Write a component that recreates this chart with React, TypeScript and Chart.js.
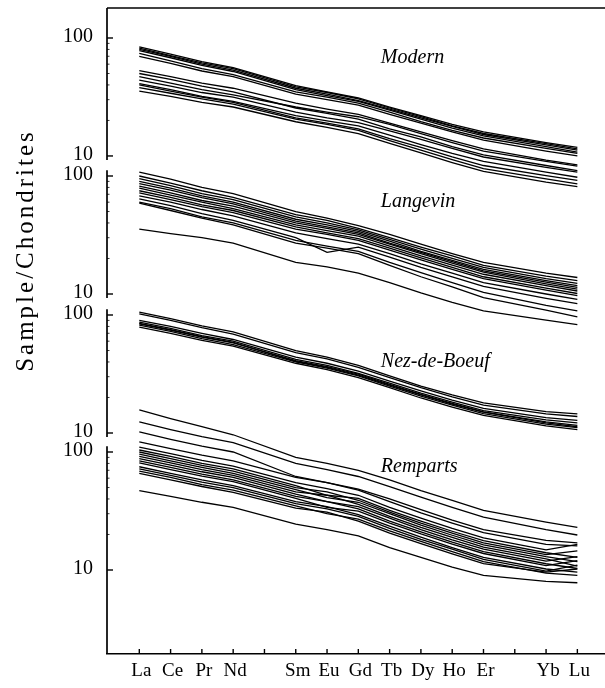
import React, { useEffect, useRef } from 'react';
import { Chart, registerables } from 'chart.js';

Chart.register(...registerables);

// ---------------- data ----------------
const elements = ['La', 'Ce', 'Pr', 'Nd', 'Pm', 'Sm', 'Eu', 'Gd', 'Tb', 'Dy', 'Ho', 'Er', 'Tm', 'Yb', 'Lu'];
const xTickLabels = ['La', 'Ce', 'Pr', 'Nd', '', 'Sm', 'Eu', 'Gd', 'Tb', 'Dy', 'Ho', 'Er', '', 'Yb', 'Lu'];
const analysed = ['La', 'Ce', 'Pr', 'Nd', 'Sm', 'Eu', 'Gd', 'Tb', 'Dy', 'Ho', 'Er', 'Yb', 'Lu'];
const yTickValues = [10, 100];
const yTickLabels = ['10', '100'];
const yMinorValues = [20, 30, 40, 50, 60, 70, 80, 90];
const panelNames = ['Modern', 'Langevin', 'Nez-de-Boeuf', 'Remparts'];

// chondrite-normalised values, order = analysed
const modern = [
  [84, 73, 63, 56, 39.5, 35, 31, 26, 22, 18.5, 16, 13, 11.8],
  [82, 71, 61.5, 55, 38.5, 34.5, 30.5, 25.5, 21.5, 18, 15.5, 12.7, 11.5],
  [80, 70, 60, 53.5, 37.5, 33.5, 29.5, 25, 21, 17.8, 15.2, 12.4, 11.2],
  [78, 68, 58.5, 52, 36.5, 32.5, 29, 24.5, 20.5, 17.2, 14.8, 12, 10.8],
  [74, 64, 55, 49, 35, 31.5, 28, 23.5, 19.5, 16.5, 14.2, 11.6, 10.5],
  [70, 61, 52.5, 47, 33.5, 30, 27, 22.5, 19, 16, 13.6, 11, 10],
  [53, 47, 41.5, 37.5, 28, 25, 22.5, 19, 16, 13.5, 11.5, 9.2, 8.4],
  [50, 44.5, 39, 35, 25.5, 23, 20.5, 17, 14.5, 12, 10.2, 8.3, 7.5],
  [47, 41.5, 36.5, 33, 26, 23.5, 21.5, 18.5, 15.5, 13, 11, 9, 8.2],
  [44, 39, 34.5, 31.5, 23.5, 21, 19.2, 16.3, 13.8, 11.6, 9.8, 8, 7.3],
  [41, 36.5, 32, 29, 22, 19.8, 18, 15, 12.5, 10.5, 9, 7.3, 6.6],
  [40, 35.5, 31.5, 28.5, 21, 19, 17, 14, 11.8, 9.8, 8.3, 6.8, 6.2],
  [38, 34, 30.5, 27.5, 20.5, 18.5, 16.5, 13.5, 11.2, 9.3, 7.8, 6.4, 5.8],
  [35.5, 32, 28.5, 26, 19.5, 17.5, 15.5, 12.8, 10.6, 8.8, 7.4, 6, 5.5],
];

const langevin = [
  [108, 94, 80, 71, 50, 44, 38, 32, 26.5, 22, 18.5, 15, 13.8],
  [100, 87, 75, 66, 47, 42, 36, 30, 25, 21, 17.5, 14.2, 13],
  [95, 83, 71, 63, 45, 40, 35, 29, 24, 20, 16.8, 13.5, 12.3],
  [90, 79, 68, 60, 43, 38.5, 34, 28, 23, 19.3, 16.2, 13, 11.8],
  [86, 76, 65.5, 58, 41.5, 37, 33, 27, 22.5, 18.8, 15.7, 12.6, 11.4],
  [82, 72, 62, 55.5, 40, 36, 32, 26.5, 22, 18.3, 15.3, 12.2, 11],
  [79, 69, 60, 53, 38.5, 34.5, 31, 25.5, 21, 17.6, 14.7, 11.8, 10.6],
  [75, 66, 57, 51, 37, 33, 29.5, 24.5, 20.2, 16.8, 14, 11.2, 10.1],
  [72, 63, 55, 49, 35.5, 32, 28.5, 23.5, 19.5, 16.2, 13.5, 10.8, 9.7],
  [68, 60, 52, 46, 33, 29.5, 26.5, 22, 18, 15, 12.5, 10, 9],
  [64, 56, 48, 42, 30, 22.5, 25, 20.5, 16.8, 14, 11.6, 9.2, 8.3],
  [60, 53, 45, 40, 28.5, 25.5, 23, 18.5, 15.2, 12.5, 10.3, 8, 7.2],
  [59, 51, 44, 38.5, 27, 24.5, 22, 17.5, 14, 11.5, 9.3, 7.3, 6.4],
  [35.5, 32.5, 30, 27, 18.5, 17, 15, 12.5, 10.2, 8.5, 7.2, 6, 5.5],
];

const nezDeBoeuf = [
  [106, 93, 81, 72, 50, 44, 37.5, 30.5, 25, 21, 18, 15.2, 14.5],
  [102, 90, 78, 69, 48, 42.5, 36, 29.5, 24.2, 20.2, 17.2, 14.5, 13.8],
  [90, 80, 70, 62, 44, 39, 33.5, 27.5, 22.7, 19, 16.2, 13.5, 12.8],
  [87, 77, 67, 60, 42, 37.5, 32, 26.5, 21.8, 18.3, 15.5, 12.9, 12.2],
  [85, 75, 65.5, 58.5, 40.5, 36, 31, 25.5, 21, 17.6, 15, 12.2, 11.3],
  [84, 74.5, 65, 58, 41, 36.5, 31.5, 25.8, 21.2, 17.8, 15.1, 12.4, 11.6],
  [82, 72.5, 63, 56, 40, 35.5, 30.5, 25, 20.5, 17.2, 14.6, 11.9, 11.1],
  [79, 70, 61, 54.5, 39, 34.5, 29.5, 24.2, 19.8, 16.6, 14.1, 11.5, 10.7],
];

const remparts = [
  [227, 192, 164, 140, 90, 80, 70, 58, 47, 39, 32, 25.5, 23],
  [180, 155, 135, 120, 80, 71, 62, 51, 41.5, 34, 28, 22, 19.8],
  [148, 128, 112, 100, 62, 55, 48.5, 40, 32.5, 26.5, 22, 17.8, 17],
  [122, 107, 94, 84, 61, 55, 47.5, 38, 30.5, 25, 20.7, 16.5, 16],
  [110, 97, 85, 76, 55, 49, 43, 34, 27.5, 22.5, 18.7, 14.8, 16.5],
  [104, 92, 80, 72, 52, 43, 40.5, 32, 26, 21.3, 17.7, 14, 12.8],
  [100, 88, 77, 69, 50, 46, 39, 31, 25, 20.5, 17, 13.5, 14.5],
  [96, 84, 74, 66, 48, 41, 37.5, 30, 24, 19.7, 16.3, 13, 11.8],
  [92, 81, 71, 63.5, 46, 43, 36, 28.5, 23, 18.9, 15.6, 12.4, 10.8],
  [88, 77.5, 68, 61, 44, 38, 34.5, 27.5, 22, 18, 15, 11.9, 13],
  [84, 74, 65, 58, 42, 38, 33, 26, 21, 17.2, 14.3, 11.3, 10.3],
  [81, 71, 62.5, 56, 40.5, 34, 31.5, 25, 20.2, 16.6, 13.8, 10.9, 12],
  [75, 66, 58, 52, 38, 34.5, 29.5, 23.5, 19, 15.5, 12.8, 10.2, 9.6],
  [72, 63.5, 55.5, 50, 36.5, 33, 28.5, 22.5, 18.2, 15, 12.3, 9.8, 11],
  [69, 61, 53, 47.5, 35, 30, 27, 21.5, 17.5, 14.3, 11.8, 9.4, 9],
  [66, 58, 51, 45.5, 33.5, 31, 26, 20.5, 16.7, 13.7, 11.3, 9.6, 10.2],
  [47, 42, 37.5, 34, 24.5, 22, 19.5, 15.5, 12.8, 10.6, 9, 8, 7.8],
];

const panelSeries = [modern, langevin, nezDeBoeuf, remparts];

// ---------------- layout (pixels, not data) ----------------
const W = 605;
const H = 688;
const AREA_LEFT = 107;
const AREA_TOP = 8;
const AREA_BOTTOM = 654;
const DECADE_PX = 118;
const PANEL_100_PX = [38, 176, 315, 452];
const X_FIRST_PX = 139.3;
const X_STEP_PX = 31.29;
const LABEL_X_INDEX = 7.72;
const LABEL_Y_VALUE = [67.7, 60, 40, 74.6];
const SEG_TOP_VALUE = 112;
const SEG_BOTTOM_VALUE = 9.25;
const SERIF = "'Liberation Serif', 'Times New Roman', Times, serif";

const xMin = -(X_FIRST_PX - AREA_LEFT) / X_STEP_PX;
const xMax = (W - X_FIRST_PX) / X_STEP_PX;

function panelRange(k: number) {
  const p = PANEL_100_PX[k];
  return {
    min: 100 * Math.pow(10, -(AREA_BOTTOM - p) / DECADE_PX),
    max: 100 * Math.pow(10, (p - AREA_TOP) / DECADE_PX),
  };
}

const decorPlugin = {
  id: 'panelDecor',
  afterDraw(chart: any) {
    const { ctx, chartArea, scales } = chart;
    const xs = scales.x;
    ctx.save();
    ctx.strokeStyle = '#000';
    ctx.fillStyle = '#000';
    ctx.lineCap = 'butt';

    // top frame line
    ctx.lineWidth = 1.6;
    ctx.beginPath();
    ctx.moveTo(chartArea.left, chartArea.top);
    ctx.lineTo(chartArea.right, chartArea.top);
    ctx.stroke();

    // x ticks (inward)
    ctx.lineWidth = 1.4;
    elements.forEach((_, i) => {
      const px = xs.getPixelForValue(i);
      ctx.beginPath();
      ctx.moveTo(px, chartArea.bottom);
      ctx.lineTo(px, chartArea.bottom - 5);
      ctx.stroke();
    });

    panelNames.forEach((name, k) => {
      const s = scales['y' + k];
      const x0 = chartArea.left;
      const yTop = k === 0 ? chartArea.top : s.getPixelForValue(SEG_TOP_VALUE);
      const yBot = k === panelNames.length - 1 ? chartArea.bottom : s.getPixelForValue(SEG_BOTTOM_VALUE);
      ctx.lineWidth = 1.7;
      ctx.beginPath();
      ctx.moveTo(x0, yTop);
      ctx.lineTo(x0, yBot);
      ctx.stroke();

      ctx.lineWidth = 1.4;
      yTickValues.forEach((v) => {
        const py = s.getPixelForValue(v);
        ctx.beginPath();
        ctx.moveTo(x0, py);
        ctx.lineTo(x0 + 6, py);
        ctx.stroke();
      });
      ctx.lineWidth = 0.8;
      yMinorValues.forEach((v) => {
        const py = s.getPixelForValue(v);
        ctx.beginPath();
        ctx.moveTo(x0, py);
        ctx.lineTo(x0 + 2.5, py);
        ctx.stroke();
      });

      ctx.font = `20px ${SERIF}`;
      ctx.textAlign = 'right';
      ctx.textBaseline = 'middle';
      yTickValues.forEach((v, i) => {
        ctx.fillText(yTickLabels[i], x0 - 14, s.getPixelForValue(v) - 1);
      });

      ctx.font = `italic 20px ${SERIF}`;
      ctx.textAlign = 'left';
      ctx.textBaseline = 'middle';
      ctx.fillText(name, xs.getPixelForValue(LABEL_X_INDEX), s.getPixelForValue(LABEL_Y_VALUE[k]));
    });

    // y-axis title
    ctx.save();
    ctx.translate(33, 252);
    ctx.rotate(-Math.PI / 2);
    ctx.font = `25px ${SERIF}`;
    (ctx as any).letterSpacing = '3px';
    ctx.textAlign = 'center';
    ctx.textBaseline = 'alphabetic';
    ctx.fillText('Sample/Chondrites', 1.5, 0);
    ctx.restore();

    ctx.restore();
  },
};

export default function App() {
  const ref = useRef<HTMLCanvasElement | null>(null);

  useEffect(() => {
    if (!ref.current) return;
    const datasets = panelSeries.flatMap((series, k) =>
      series.map((vals, j) => ({
        label: `${panelNames[k]} ${j + 1}`,
        data: analysed.map((el, i) => ({ x: elements.indexOf(el), y: vals[i] })),
        yAxisID: 'y' + k,
        borderColor: '#000',
        backgroundColor: '#000',
        borderWidth: 1.3,
        pointRadius: 0,
        fill: false,
        tension: 0,
      }))
    );

    const yScales: any = {};
    panelNames.forEach((_, k) => {
      const r = panelRange(k);
      yScales['y' + k] = { type: 'logarithmic', display: false, min: r.min, max: r.max };
    });

    const chart = new Chart(ref.current, {
      type: 'line',
      data: { datasets },
      options: {
        animation: false,
        responsive: false,
        devicePixelRatio: 1,
        events: [],
        layout: { padding: { left: AREA_LEFT, top: AREA_TOP, right: 0, bottom: 0 } },
        plugins: { legend: { display: false }, tooltip: { enabled: false }, title: { display: false } },
        scales: {
          x: {
            type: 'linear',
            min: xMin,
            max: xMax,
            afterBuildTicks: (s: any) => {
              s.ticks = elements.map((_, i) => ({ value: i }));
            },
            afterFit: (s: any) => {
              s.height = H - AREA_BOTTOM;
            },
            grid: { display: false, drawTicks: false },
            border: { display: true, color: '#000', width: 1.6 },
            ticks: {
              autoSkip: false,
              maxRotation: 0,
              minRotation: 0,
              padding: 6,
              labelOffset: 2,
              color: '#000',
              font: { family: SERIF, size: 19 },
              callback: (v: any) => xTickLabels[Math.round(Number(v))] ?? '',
            },
          },
          ...yScales,
        },
      } as any,
      plugins: [decorPlugin],
    });
    return () => chart.destroy();
  }, []);

  return (
    <div style={{ position: 'absolute', left: 0, top: 0, width: W, height: H, background: '#fff' }}>
      <canvas ref={ref} width={W} height={H} style={{ display: 'block', width: W, height: H }} />
    </div>
  );
}
